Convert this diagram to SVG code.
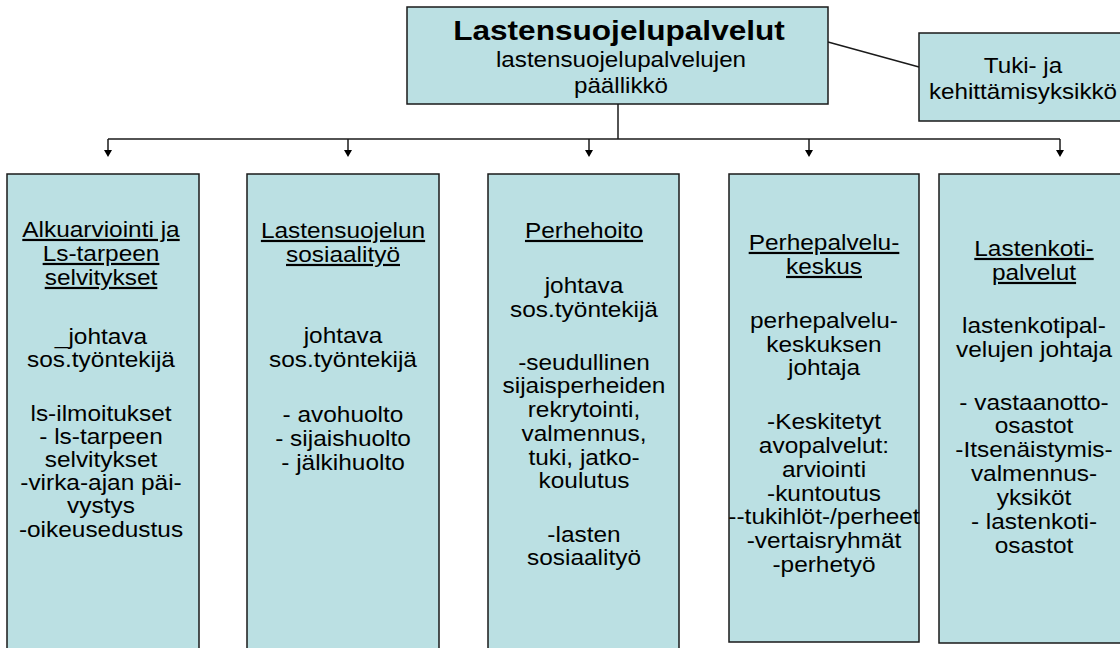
<svg xmlns="http://www.w3.org/2000/svg" width="1120" height="648" viewBox="0 0 1120 648">
<defs>
<style>
.box{fill:#BBE0E3;stroke:#1a1a1a;stroke-width:1.5}
.t{font-family:"Liberation Sans",Arial,sans-serif;font-size:22px;fill:#000;text-anchor:middle}
.u{text-decoration:underline}
.title{font-family:"Liberation Sans",Arial,sans-serif;font-size:27px;font-weight:bold;fill:#000;text-anchor:middle}
.ln{stroke:#1a1a1a;stroke-width:1.5;fill:none}
</style>
<marker id="ah" markerWidth="8" markerHeight="7" refX="4" refY="6" orient="auto-start-reverse" markerUnits="userSpaceOnUse" viewBox="0 0 8 7">
<path d="M0,0 L8,0 L4,7 Z" fill="#000" transform="rotate(0)"/>
</marker>
</defs>
<rect width="1120" height="648" fill="#fff"/>

<g id="connectors">
<line class="ln" x1="828" y1="42" x2="919" y2="67"/>
<line class="ln" x1="618" y1="104" x2="618" y2="139"/>
<line class="ln" x1="108" y1="139" x2="1060" y2="139"/>
<line class="ln" x1="108" y1="139" x2="108" y2="151"/>
<line class="ln" x1="348" y1="139" x2="348" y2="151"/>
<line class="ln" x1="589" y1="139" x2="589" y2="151"/>
<line class="ln" x1="809" y1="139" x2="809" y2="151"/>
<line class="ln" x1="1060" y1="139" x2="1060" y2="151"/>
<path d="M104,150 L112,150 L108,157 Z M344,150 L352,150 L348,157 Z M585,150 L593,150 L589,157 Z M805,150 L813,150 L809,157 Z M1056,150 L1064,150 L1060,157 Z" fill="#000"/>
</g>

<g id="node-top">
<rect class="box" x="407" y="7" width="421" height="97"/>
<g transform="translate(619,0) scale(1.17,1)">
<text class="title" x="0" y="40">Lastensuojelupalvelut</text>
</g>
<g transform="translate(621,0) scale(1.1,1)">
<text class="t" x="0" y="67">lastensuojelupalvelujen</text>
<text class="t" x="0" y="93">päällikkö</text>
</g>
</g>

<g id="node-tuki">
<rect class="box" x="919" y="33" width="210" height="88"/>
<g transform="translate(1023,0) scale(1.1,1)">
<text class="t" x="0" y="73">Tuki- ja</text>
<text class="t" x="0" y="99">kehittämisyksikkö</text>
</g>
</g>

<g id="node-alkuarviointi">
<rect class="box" x="7" y="174" width="192" height="490"/>
<g transform="translate(101,0) scale(1.11,1)">
<text class="t u" x="0" y="237">Alkuarviointi ja</text>
<text class="t u" x="0" y="261">Ls-tarpeen</text>
<text class="t u" x="0" y="285">selvitykset</text>
<text class="t" x="0" y="344">_johtava</text>
<text class="t" x="0" y="367">sos.työntekijä</text>
<text class="t" x="0" y="421">ls-ilmoitukset</text>
<text class="t" x="0" y="444">- ls-tarpeen</text>
<text class="t" x="0" y="467">selvitykset</text>
<text class="t" x="0" y="490">-virka-ajan päi-</text>
<text class="t" x="0" y="513">vystys</text>
<text class="t" x="0" y="537">-oikeusedustus</text>
</g>
</g>

<g id="node-sosiaalityo">
<rect class="box" x="247" y="174" width="192" height="490"/>
<g transform="translate(343,0) scale(1.11,1)">
<text class="t u" x="0" y="238">Lastensuojelun</text>
<text class="t u" x="0" y="262">sosiaalityö</text>
<text class="t" x="0" y="343">johtava</text>
<text class="t" x="0" y="367">sos.työntekijä</text>
<text class="t" x="0" y="422">- avohuolto</text>
<text class="t" x="0" y="446">- sijaishuolto</text>
<text class="t" x="0" y="470">- jälkihuolto</text>
</g>
</g>

<g id="node-perhehoito">
<rect class="box" x="488" y="174" width="191" height="490"/>
<g transform="translate(584,0) scale(1.11,1)">
<text class="t u" x="0" y="238">Perhehoito</text>
<text class="t" x="0" y="293">johtava</text>
<text class="t" x="0" y="317">sos.työntekijä</text>
<text class="t" x="0" y="370">-seudullinen</text>
<text class="t" x="0" y="393">sijaisperheiden</text>
<text class="t" x="0" y="417">rekrytointi,</text>
<text class="t" x="0" y="441">valmennus,</text>
<text class="t" x="0" y="465">tuki, jatko-</text>
<text class="t" x="0" y="488">koulutus</text>
<text class="t" x="0" y="542">-lasten</text>
<text class="t" x="0" y="565">sosiaalityö</text>
</g>
</g>

<g id="node-perhepalvelukeskus">
<rect class="box" x="729" y="174" width="190" height="468"/>
<g transform="translate(824,0) scale(1.11,1)">
<text class="t u" x="0" y="250">Perhepalvelu-</text>
<text class="t u" x="0" y="274">keskus</text>
<text class="t" x="0" y="328">perhepalvelu-</text>
<text class="t" x="0" y="352">keskuksen</text>
<text class="t" x="0" y="375">johtaja</text>
<text class="t" x="0" y="429">-Keskitetyt</text>
<text class="t" x="0" y="453">avopalvelut:</text>
<text class="t" x="0" y="477">arviointi</text>
<text class="t" x="0" y="501">-kuntoutus</text>
<text class="t" x="0" y="524">--tukihlöt-/perheet</text>
<text class="t" x="0" y="548">-vertaisryhmät</text>
<text class="t" x="0" y="572">-perhetyö</text>
</g>
</g>

<g id="node-lastenkoti">
<rect class="box" x="939" y="174" width="190" height="469"/>
<g transform="translate(1034,0) scale(1.11,1)">
<text class="t u" x="0" y="256">Lastenkoti-</text>
<text class="t u" x="0" y="280">palvelut</text>
<text class="t" x="0" y="333">lastenkotipal-</text>
<text class="t" x="0" y="357">velujen johtaja</text>
<text class="t" x="0" y="410">- vastaanotto-</text>
<text class="t" x="0" y="433">osastot</text>
<text class="t" x="0" y="457">-Itsenäistymis-</text>
<text class="t" x="0" y="481">valmennus-</text>
<text class="t" x="0" y="505">yksiköt</text>
<text class="t" x="0" y="529">- lastenkoti-</text>
<text class="t" x="0" y="553">osastot</text>
</g>
</g>
</svg>
